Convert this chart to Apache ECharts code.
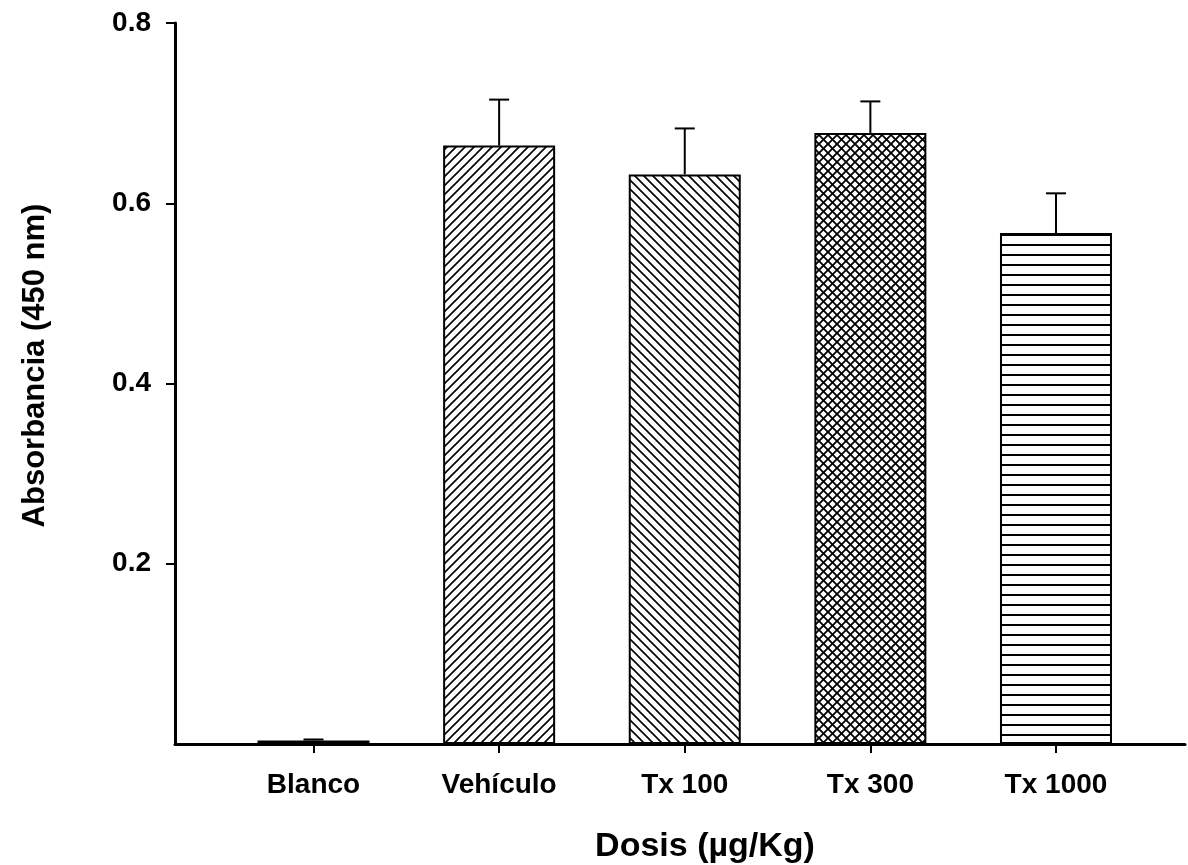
<!DOCTYPE html>
<html>
<head>
<meta charset="utf-8">
<script src="https://cdn.jsdelivr.net/npm/echarts@6/dist/echarts.min.js"></script>
<style>html,body{margin:0;padding:0;background:#fff;}#c{width:1188px;height:865px;}</style>
</head>
<body>
<div id="c"></div>
<script>
const categories = ['Blanco', 'Vehículo', 'Tx 100', 'Tx 300', 'Tx 1000'];
const means = [0.004, 0.664, 0.632, 0.678, 0.567];
const errors = [0.001, 0.051, 0.051, 0.035, 0.044];
const yTicks = [0.2, 0.4, 0.6, 0.8];
const fills = ['none', 'forward', 'backward', 'cross', 'horizontal'];

function makePattern(kind) {
  if (kind === 'none') return '#ffffff';
  const c = document.createElement('canvas');
  const ctx = c.getContext('2d');
  let s = 9;
  if (kind === 'horizontal') s = 10;
  c.width = s; c.height = s;
  ctx.fillStyle = '#fff';
  ctx.fillRect(0, 0, s, s);
  ctx.strokeStyle = '#000';
  ctx.lineWidth = 1.6;
  ctx.lineCap = 'square';
  function fwd() {
    ctx.beginPath();
    ctx.moveTo(-1, s + 1); ctx.lineTo(s + 1, -1);
    ctx.moveTo(-s - 1, s + 1); ctx.lineTo(1, -1);
    ctx.moveTo(s - 1, s + 1); ctx.lineTo(2 * s + 1, -1);
    ctx.stroke();
  }
  function bwd() {
    ctx.beginPath();
    ctx.moveTo(-1, -1); ctx.lineTo(s + 1, s + 1);
    ctx.moveTo(-s - 1, -1); ctx.lineTo(1, s + 1);
    ctx.moveTo(s - 1, -1); ctx.lineTo(2 * s + 1, s + 1);
    ctx.stroke();
  }
  if (kind === 'forward') fwd();
  else if (kind === 'backward') bwd();
  else if (kind === 'cross') { ctx.lineWidth = 1.8; fwd(); bwd(); }
  else if (kind === 'horizontal') {
    ctx.lineWidth = 2;
    ctx.beginPath(); ctx.moveTo(0, 5); ctx.lineTo(s, 5); ctx.stroke();
  }
  return { image: c, repeat: 'repeat' };
}

const font = 'Liberation Sans, Arial, sans-serif';
const chart = echarts.init(document.getElementById('c'), null, { renderer: 'canvas' });

const barData = categories.map((c, i) => ({
  value: means[i],
  itemStyle: { color: makePattern(fills[i]) }
}));
const errData = categories.map((c, i) => [i, means[i], errors[i]]);

chart.setOption({
  backgroundColor: '#fff',
  animation: false,
  grid: [
    { left: 220.7, right: 39.2, top: 23, bottom: 121, containLabel: false, outerBoundsMode: 'none' },
    { left: 175, right: 3, top: 23, bottom: 121, containLabel: false, outerBoundsMode: 'none' }
  ],
  xAxis: [
    {
      type: 'category', gridIndex: 0, data: categories,
      axisLine: { show: false },
      axisTick: { show: true, alignWithLabel: true, length: 9, lineStyle: { color: '#000', width: 2 } },
      axisLabel: { color: '#000', fontFamily: font, fontWeight: 'bold', fontSize: 28, margin: 27 }
    },
    {
      type: 'value', gridIndex: 1, min: 0, max: 1,
      axisLine: { show: true, onZero: false, lineStyle: { color: '#000', width: 3 } },
      axisTick: { show: false }, axisLabel: { show: false }, splitLine: { show: false },
      name: 'Dosis (µg/Kg)', nameLocation: 'middle', nameGap: 86,
      nameTextStyle: { color: '#000', fontFamily: font, fontWeight: 'bold', fontSize: 34, padding: [0, 0, 0, 50] }
    }
  ],
  yAxis: [
    {
      type: 'value', gridIndex: 0, min: 0, max: 0.8, interval: 0.2,
      show: false, splitLine: { show: false }
    },
    {
      type: 'value', gridIndex: 1, min: 0, max: 0.8, interval: 0.2,
      axisLine: { show: true, lineStyle: { color: '#000', width: 3 } },
      axisTick: { show: true, length: 9, customValues: yTicks, lineStyle: { color: '#000', width: 2 } },
      axisLabel: { color: '#000', fontFamily: font, fontWeight: 'bold', fontSize: 28, margin: 24,
        customValues: yTicks, formatter: v => v.toFixed(1) },
      splitLine: { show: false },
      name: 'Absorbancia (450 nm)', nameLocation: 'middle', nameGap: 124, nameRotate: 90,
      nameTextStyle: { color: '#000', fontFamily: font, fontWeight: 'bold', fontSize: 31, padding: [0, 0, 0, 36] }
    }
  ],
  series: [
    {
      type: 'bar', xAxisIndex: 0, yAxisIndex: 0, data: barData, barWidth: 112,
      itemStyle: { borderColor: '#000', borderWidth: 2 }, z: 2
    },
    {
      type: 'custom', xAxisIndex: 0, yAxisIndex: 0, data: errData, z: 3,
      renderItem: function (params, api) {
        const base = api.coord([api.value(0), api.value(1)]);
        const top = api.coord([api.value(0), api.value(1) + api.value(2)]);
        const st = { stroke: '#000', lineWidth: 2 };
        return {
          type: 'group',
          children: [
            { type: 'line', shape: { x1: base[0], y1: base[1], x2: top[0], y2: top[1] }, style: st },
            { type: 'line', shape: { x1: top[0] - 10, y1: top[1], x2: top[0] + 10, y2: top[1] }, style: st }
          ]
        };
      }
    }
  ]
});
</script>
</body>
</html>
